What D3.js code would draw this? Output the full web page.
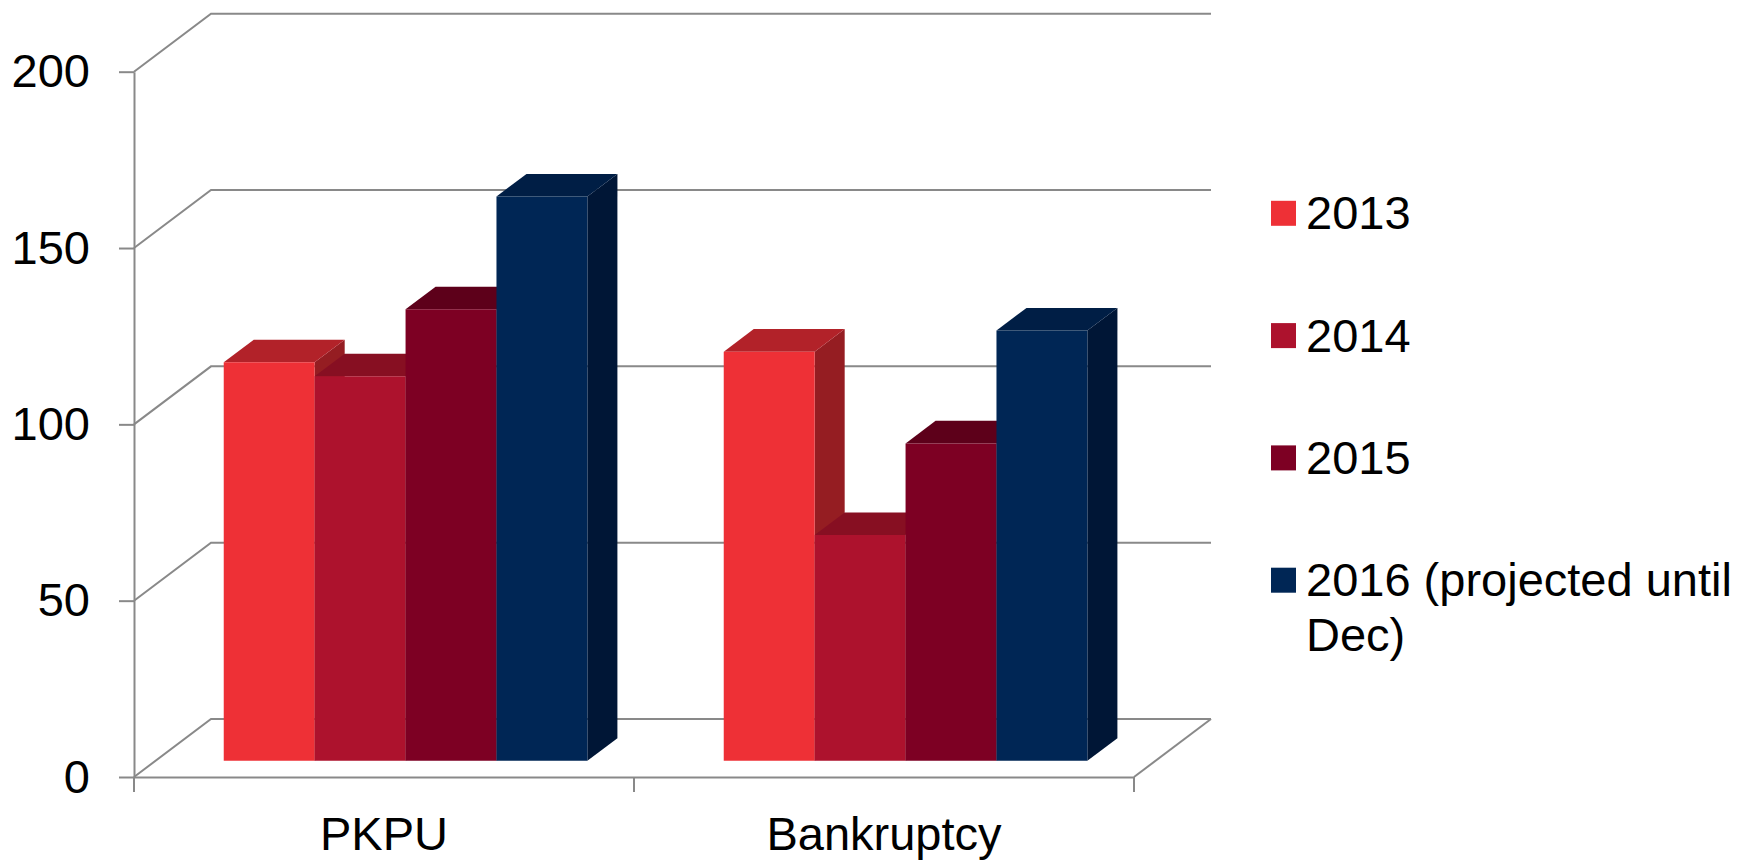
<!DOCTYPE html>
<html>
<head>
<meta charset="utf-8">
<script src="https://cdn.jsdelivr.net/npm/d3@7"></script>
<style>
  body { margin: 0; background: #fff; }
  svg text { font-family: "Liberation Sans", Arial, sans-serif; fill: #000; }
</style>
</head>
<body>
<svg id="chart" width="1761" height="861"></svg>
<script>
// Data
const categories = ["PKPU", "Bankruptcy"];
const seriesNames = ["2013", "2014", "2015", "2016 (projected until Dec)"];
const pkpuValues = [113, 109, 128, 160];
const bankruptcyValues = [116, 64, 90, 122];
const yTickValues = [0, 50, 100, 150, 200];

// Colours per series: front, top, side
const frontColors = ["#EE3036", "#AD122D", "#7D0023", "#002655"];
const topColors = ["#B22229", "#870F22", "#5D001A", "#001E45"];
const sideColors = ["#951D22", "#6F0C1C", "#4F0016", "#001636"];

const valuesByCategory = [pkpuValues, bankruptcyValues];

// Layout
const plot = { left: 134, right: 1134, top: 71.7, bottom: 777 };
const depth = { dx: 77, dy: 58 };       // full depth of the floor
const barFront = 0.28, barBack = 0.67;  // bar position inside the depth
const gridColor = "#898989";
const fontSize = 47;

const svg = d3.select("#chart");

// Scales
const xCat = d3.scaleBand()
    .domain(categories)
    .range([plot.left, plot.right])
    .padding(0);

const gap = xCat.bandwidth() * 1.5 / 5.5 / 2;
const xSer = d3.scaleBand()
    .domain(seriesNames)
    .range([gap, xCat.bandwidth() - gap])
    .padding(0);

const y = d3.scaleLinear()
    .domain([0, 200])
    .range([plot.bottom, plot.top]);

// project a point from the front plane into depth
const proj = (x, v, f) => [x + f * depth.dx, y(v) - f * depth.dy];
const poly = pts => "M" + pts.map(p => p.join(",")).join("L") + "Z";

// Back wall + side wall gridlines
svg.append("g")
    .selectAll("path")
    .data(yTickValues)
    .enter()
    .append("path")
    .attr("fill", "none")
    .attr("stroke", gridColor)
    .attr("stroke-width", 2)
    .attr("d", d => {
        const a = proj(plot.left, d, 0), b = proj(plot.left, d, 1), c = proj(plot.right, d, 1);
        return "M" + a + "L" + b + "L" + c;
    });

// Floor right edge
svg.append("path")
    .attr("fill", "none")
    .attr("stroke", gridColor)
    .attr("stroke-width", 2)
    .attr("d", "M" + proj(plot.right, 0, 0) + "L" + proj(plot.right, 0, 1));

// Y axis
const yAxis = svg.append("g")
    .attr("transform", "translate(" + plot.left + ",0)")
    .call(d3.axisLeft(y).tickValues(yTickValues).tickSize(15).tickSizeOuter(0).tickPadding(29));
yAxis.selectAll("path, line").attr("stroke", gridColor).attr("stroke-width", 2);
yAxis.selectAll("text").attr("font-size", fontSize).attr("fill", "#000");

// X axis
const xAxis = svg.append("g")
    .attr("transform", "translate(0," + plot.bottom + ")")
    .call(d3.axisBottom(xCat).tickSize(0).tickSizeOuter(0).tickPadding(40));
xAxis.selectAll("path").attr("stroke", gridColor).attr("stroke-width", 2);
xAxis.selectAll("text").attr("font-size", fontSize).attr("fill", "#000");

// category boundary ticks
const boundaries = categories.map(c => xCat(c)).concat([xCat(categories[categories.length - 1]) + xCat.bandwidth()]);
svg.append("g")
    .selectAll("line")
    .data(boundaries)
    .enter()
    .append("line")
    .attr("x1", d => d).attr("x2", d => d)
    .attr("y1", plot.bottom).attr("y2", plot.bottom + 15)
    .attr("stroke", gridColor)
    .attr("stroke-width", 2);

// Bars (left to right so later bars cover earlier side faces)
const bars = [];
categories.forEach((c, ci) => {
    seriesNames.forEach((s, si) => {
        bars.push({ cat: c, ser: s, si: si, value: valuesByCategory[ci][si] });
    });
});

const barG = svg.append("g")
    .selectAll("g")
    .data(bars)
    .enter()
    .append("g");

barG.each(function(d) {
    const g = d3.select(this);
    const x0 = xCat(d.cat) + xSer(d.ser);
    const x1 = x0 + xSer.bandwidth();
    // side face
    g.append("path")
        .attr("fill", sideColors[d.si])
        .attr("d", poly([proj(x1, 0, barFront), proj(x1, 0, barBack), proj(x1, d.value, barBack), proj(x1, d.value, barFront)]));
    // top face
    g.append("path")
        .attr("fill", topColors[d.si])
        .attr("d", poly([proj(x0, d.value, barFront), proj(x1, d.value, barFront), proj(x1, d.value, barBack), proj(x0, d.value, barBack)]));
    // front face
    g.append("path")
        .attr("fill", frontColors[d.si])
        .attr("d", poly([proj(x0, 0, barFront), proj(x1, 0, barFront), proj(x1, d.value, barFront), proj(x0, d.value, barFront)]));
});

// Legend
const legend = svg.append("g").attr("transform", "translate(1271,0)");
const legendRow = d3.scaleLinear().domain([0, 1]).range([213.3, 335.6]);

const items = legend.selectAll("g")
    .data(seriesNames)
    .enter()
    .append("g")
    .attr("transform", (d, i) => "translate(0," + legendRow(i) + ")");

items.append("rect")
    .attr("x", 0)
    .attr("y", -12.5)
    .attr("width", 25)
    .attr("height", 25)
    .attr("fill", (d, i) => frontColors[i]);

items.append("text")
    .attr("x", 35)
    .attr("y", 16)
    .attr("font-size", fontSize)
    .each(function(d) {
        // simple word wrap
        const t = d3.select(this);
        const words = d.split(" ");
        let line = [];
        let tspan = t.append("tspan").attr("x", 35);
        words.forEach(w => {
            line.push(w);
            tspan.text(line.join(" "));
            if (tspan.node().getComputedTextLength() > 450 && line.length > 1) {
                line.pop();
                tspan.text(line.join(" "));
                line = [w];
                tspan = t.append("tspan").attr("x", 35).attr("dy", 55).text(w);
            }
        });
    });
</script>
</body>
</html>
